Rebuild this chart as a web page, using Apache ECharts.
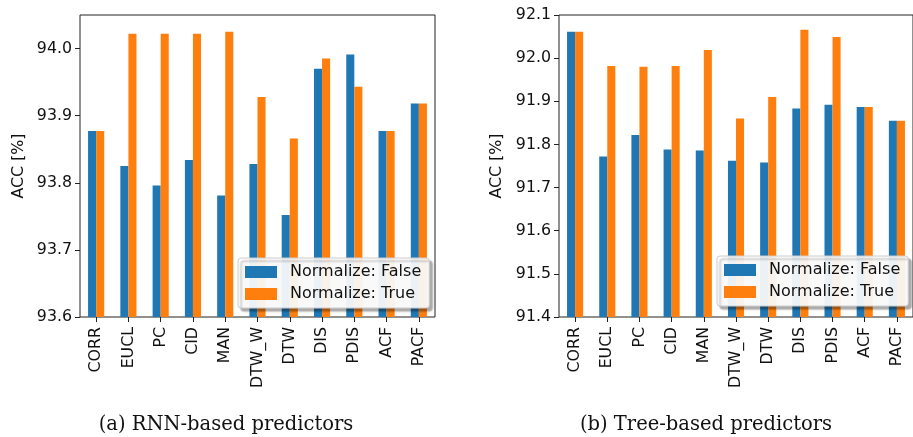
<!DOCTYPE html>
<html>
<head>
<meta charset="utf-8">
<script src="https://cdn.jsdelivr.net/npm/echarts@6/dist/echarts.min.js"></script>
<style>
html,body{margin:0;padding:0;background:#fff;}
#chart{width:913px;height:437px;}
</style>
</head>
<body>
<div id="chart"></div>
<script>
const categories = ['CORR','EUCL','PC','CID','MAN','DTW_W','DTW','DIS','PDIS','ACF','PACF'];
const seriesNames = ['Normalize: False','Normalize: True'];
const rnnFalse = [93.877,93.825,93.796,93.834,93.781,93.828,93.752,93.970,93.991,93.877,93.918];
const rnnTrue  = [93.877,94.022,94.022,94.022,94.025,93.928,93.866,93.985,93.943,93.877,93.918];
const treeFalse = [92.061,91.772,91.822,91.788,91.786,91.762,91.758,91.883,91.892,91.887,91.855];
const treeTrue  = [92.061,91.982,91.980,91.982,92.019,91.860,91.910,92.066,92.049,91.887,91.855];
const rnnTicks = [93.6,93.7,93.8,93.9,94.0];
const treeTicks = [91.4,91.5,91.6,91.7,91.8,91.9,92.0,92.1];
const yLabel = 'ACC [%]';
const captions = ['(a) RNN-based predictors','(b) Tree-based predictors'];

const FONT = 'DejaVu Sans';
const colors = ['#1f77b4','#ff7f0e'];
const chart = echarts.init(document.getElementById('chart'), null, {renderer:'canvas'});

function xAxis(gi){
  return {
    type:'category', gridIndex:gi, data:categories, boundaryGap:true,
    axisLine:{show:false},
    axisTick:{show:true, alignWithLabel:true, length:5, lineStyle:{color:'#222', width:1}},
    axisLabel:{rotate:90, margin:10, color:'#111', fontFamily:FONT, fontSize:15.8, interval:0},
    splitLine:{show:false}
  };
}
function yAxis(gi, ticks, mn, mx){
  return {
    type:'value', gridIndex:gi, min:mn, max:mx, scale:true,
    name:yLabel, nameLocation:'middle', nameGap:gi===0?53:54, nameRotate:90,
    nameTextStyle:{color:'#111', fontFamily:FONT, fontSize:15.8},
    axisLine:{show:false},
    axisTick:{show:true, length:5, customValues:ticks, lineStyle:{color:'#222', width:1}},
    axisLabel:{customValues:ticks, margin:8, color:'#111', fontFamily:FONT, fontSize:15.8,
      formatter:function(v){return Number(v).toFixed(1);}},
    splitLine:{show:false}
  };
}
function legend(left, top){
  return {
    orient:'vertical', left:left, top:top, data:seriesNames,
    icon:'rect', itemWidth:32, itemHeight:12, itemGap:6,
    padding:[6,8,6,7],
    backgroundColor:'rgba(255,255,255,0.92)', borderColor:'#cccccc', borderWidth:1, borderRadius:3,
    shadowColor:'rgba(0,0,0,0.35)', shadowOffsetX:3, shadowOffsetY:3, shadowBlur:2,
    textStyle:{color:'#111', fontFamily:FONT, fontSize:16, lineHeight:16, padding:[0,0,0,8]},
    selectedMode:false
  };
}
function bar(name, gi, data, color){
  return {
    type:'bar', name:name, xAxisIndex:gi, yAxisIndex:gi, data:data,
    barWidth:'25%', barGap:'0%', itemStyle:{color:color}, silent:true, animation:false
  };
}

chart.setOption({
  animation:false,
  grid:[
    {left:80, top:15, width:355, height:302, show:true, borderColor:'#222', borderWidth:1, backgroundColor:'transparent'},
    {left:559, top:15, width:354, height:302, show:true, borderColor:'#222', borderWidth:1, backgroundColor:'transparent'}
  ],
  xAxis:[xAxis(0), xAxis(1)],
  yAxis:[yAxis(0, rnnTicks, 93.6, 94.05), yAxis(1, treeTicks, 91.4, 92.1)],
  legend:[legend(238,258), legend(717,256)],
  series:[
    bar(seriesNames[0],0,rnnFalse,colors[0]),
    bar(seriesNames[1],0,rnnTrue,colors[1]),
    bar(seriesNames[0],1,treeFalse,colors[0]),
    bar(seriesNames[1],1,treeTrue,colors[1])
  ],
  graphic:[
    {type:'text', x:226, y:425, style:{text:captions[0], font:'19.5px "DejaVu Serif"', fill:'#111', align:'center', verticalAlign:'middle'}},
    {type:'text', x:706, y:425, style:{text:captions[1], font:'19.5px "DejaVu Serif"', fill:'#111', align:'center', verticalAlign:'middle'}}
  ]
});
</script>
</body>
</html>
